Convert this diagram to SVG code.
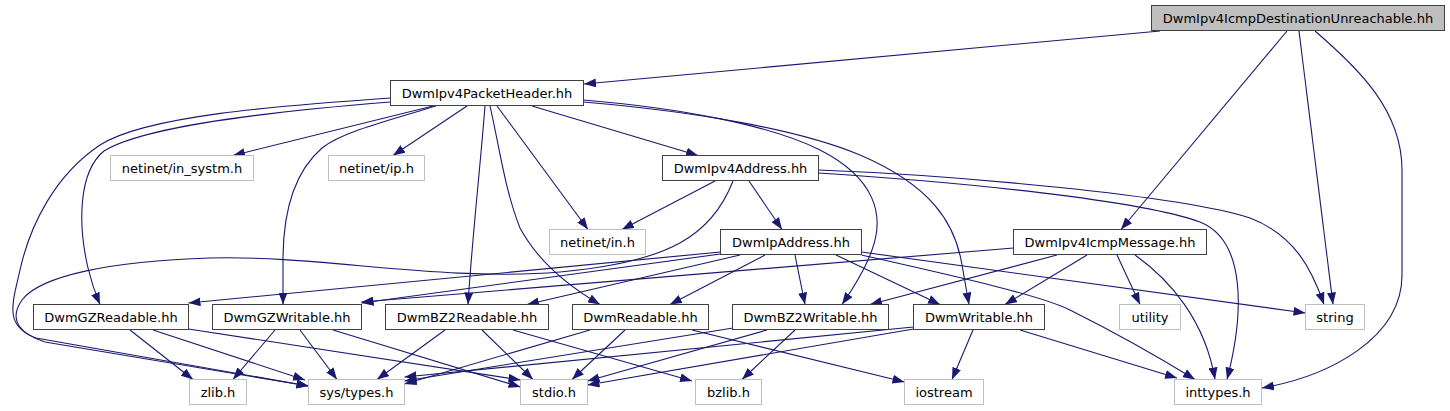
<svg xmlns="http://www.w3.org/2000/svg" width="1450" height="411" viewBox="0 0 1450 411">
<defs>
<marker id="ah" markerUnits="userSpaceOnUse" markerWidth="12" markerHeight="9" refX="12" refY="4.5" orient="auto">
<path d="M0,0 L12,4.5 L0,9 z" fill="#191970"/>
</marker>
<style>
.n rect{fill:#ffffff;stroke:#404040;stroke-width:1}
.u rect{fill:#ffffff;stroke:#bfbfbf;stroke-width:1}
.m rect{fill:#bfbfbf;stroke:#404040;stroke-width:1}
text{font-family:"DejaVu Sans","Liberation Sans",sans-serif;font-size:13px;fill:#000;text-anchor:middle}
#edges path{fill:none;stroke:#191970;stroke-width:1.1;marker-end:url(#ah)}
</style>
</defs>
<rect width="1450" height="411" fill="#ffffff"/>
<g id="edges">
<!-- A -->
<path d="M1160,31 L584,84"/>
<path d="M1287,31 L1121,229.5"/>
<path d="M1299,31 L1333,304.5"/>
<path d="M1315,31 C1358,68 1402,110 1402,170 L1402,275 C1402,338 1330,376 1262,388"/>
<!-- PacketHeader -->
<path d="M433,106 L233,155.5"/>
<path d="M467,106 L393,155.5"/>
<path d="M497,106 L588,229.5"/>
<path d="M532,106 L698,155.5"/>
<path d="M436,106 C390,120 342,132 322,148 C292,174 283,215 283,260 L283,304.5"/>
<path d="M390.5,102 C290,110 148,124 104,151 C78,172 78,225 88,268 C92,285 96,295 100,304.5"/>
<path d="M390.5,98 C275,106 145,116 100,145 C55,175 30,225 20,270 C12,305 4,326 36,338 L308.5,386"/>
<path d="M485,106 C480,170 472,240 468,304.5"/>
<path d="M490,106 C500,150 505,190 520,228 C540,265 575,290 600,304.5"/>
<path d="M583.5,100 C680,108 770,125 820,150 C875,178 885,215 872,250 C865,270 852,290 842,304.5"/>
<path d="M583.5,102 C700,112 800,130 860,155 C930,185 955,222 962,265 L969,304.5"/>
<!-- Ipv4Address -->
<path d="M715,181 L622,229.5"/>
<path d="M749,181 L782,229.5"/>
<path d="M818.5,170 C950,175 1180,195 1250,218 C1295,235 1312,270 1324,304.5"/>
<path d="M818.5,173 C960,182 1140,200 1200,222 C1245,240 1245,310 1227,379.5"/>
<path d="M733,181 C712,235 670,262 560,272 C440,282 320,255 210,258 C110,261 40,276 22,300 C8,320 20,334 45,342 L308.5,386"/>
<!-- IpAddress -->
<path d="M720.5,252 L188.5,303"/>
<path d="M720.5,254 L361.5,303"/>
<path d="M740,255 L527,304.5"/>
<path d="M765,255 L670,304.5"/>
<path d="M795,255 L805,304.5"/>
<path d="M836,255 L940,304.5"/>
<path d="M861.5,252 L1305.5,313"/>
<path d="M861.5,255 C950,275 1040,295 1070,310 C1120,335 1160,358 1195,379.5"/>
<!-- IcmpMessage -->
<path d="M1013.5,248 L361.5,302"/>
<path d="M1057,255 L870,304.5"/>
<path d="M1087,255 L1005,304.5"/>
<path d="M1117,255 L1140,304.5"/>
<path d="M1135,255 C1170,280 1205,320 1215,379.5"/>
<!-- GZReadable -->
<path d="M130,330 L193,379.5"/>
<path d="M153,330 L305,380"/>
<path d="M188.5,329 L520.5,380"/>
<!-- GZWritable -->
<path d="M275,330 L233,379.5"/>
<path d="M300,330 L337,379.5"/>
<path d="M333,330 L520.5,387"/>
<!-- BZ2Readable -->
<path d="M445,330 L377,379.5"/>
<path d="M482,330 L533,379.5"/>
<path d="M513,330 L692,381"/>
<!-- Readable -->
<path d="M590,330 L404.5,384"/>
<path d="M625,330 L572,379.5"/>
<path d="M692,330 L904.5,382"/>
<!-- BZ2Writable -->
<path d="M733,328 L404.5,381"/>
<path d="M767,330 L587.5,381"/>
<path d="M795,330 L742,379.5"/>
<!-- Writable -->
<path d="M913.5,327 L404.5,377"/>
<path d="M913.5,329 L587.5,385"/>
<path d="M973,330 L952,379.5"/>
<path d="M1020,330 L1177,378"/>
</g>
<g id="n_main" class="m"><rect x="1151.5" y="5.5" width="293" height="25"/><text x="1298" y="22.5">DwmIpv4IcmpDestinationUnreachable.hh</text></g>
<g id="n_packetheader" class="n"><rect x="390.5" y="80.5" width="193" height="25"/><text x="487" y="97.5">DwmIpv4PacketHeader.hh</text></g>
<g id="n_in_systm" class="u"><rect x="110.5" y="155.5" width="143" height="25"/><text x="182" y="172.5">netinet/in_systm.h</text></g>
<g id="n_ip" class="u"><rect x="328.5" y="155.5" width="96" height="25"/><text x="376.5" y="172.5">netinet/ip.h</text></g>
<g id="n_ipv4address" class="n"><rect x="662.5" y="155.5" width="156" height="25"/><text x="740.5" y="172.5">DwmIpv4Address.hh</text></g>
<g id="n_in" class="u"><rect x="549.5" y="229.5" width="96" height="25"/><text x="597.5" y="246.5">netinet/in.h</text></g>
<g id="n_ipaddress" class="n"><rect x="720.5" y="229.5" width="141" height="25"/><text x="791" y="246.5">DwmIpAddress.hh</text></g>
<g id="n_icmpmessage" class="n"><rect x="1013.5" y="229.5" width="193" height="25"/><text x="1110" y="246.5">DwmIpv4IcmpMessage.hh</text></g>
<g id="n_gzreadable" class="n"><rect x="33.5" y="304.5" width="155" height="25"/><text x="111" y="321.5">DwmGZReadable.hh</text></g>
<g id="n_gzwritable" class="n"><rect x="212.5" y="304.5" width="149" height="25"/><text x="287" y="321.5">DwmGZWritable.hh</text></g>
<g id="n_bz2readable" class="n"><rect x="385.5" y="304.5" width="163" height="25"/><text x="467" y="321.5">DwmBZ2Readable.hh</text></g>
<g id="n_readable" class="n"><rect x="572.5" y="304.5" width="136" height="25"/><text x="640.5" y="321.5">DwmReadable.hh</text></g>
<g id="n_bz2writable" class="n"><rect x="732.5" y="304.5" width="156" height="25"/><text x="810.5" y="321.5">DwmBZ2Writable.hh</text></g>
<g id="n_writable" class="n"><rect x="913.5" y="304.5" width="131" height="25"/><text x="979" y="321.5">DwmWritable.hh</text></g>
<g id="n_utility" class="u"><rect x="1119.5" y="304.5" width="61" height="25"/><text x="1150" y="321.5">utility</text></g>
<g id="n_string" class="u"><rect x="1305.5" y="304.5" width="59" height="25"/><text x="1335" y="321.5">string</text></g>
<g id="n_zlib" class="u"><rect x="189.5" y="379.5" width="57" height="25"/><text x="218" y="396.5">zlib.h</text></g>
<g id="n_systypes" class="u"><rect x="308.5" y="379.5" width="96" height="25"/><text x="356.5" y="396.5">sys/types.h</text></g>
<g id="n_stdio" class="u"><rect x="520.5" y="379.5" width="67" height="25"/><text x="554" y="396.5">stdio.h</text></g>
<g id="n_bzlib" class="u"><rect x="695.5" y="379.5" width="66" height="25"/><text x="728.5" y="396.5">bzlib.h</text></g>
<g id="n_iostream" class="u"><rect x="904.5" y="379.5" width="79" height="25"/><text x="944" y="396.5">iostream</text></g>
<g id="n_inttypes" class="u"><rect x="1174.5" y="379.5" width="87" height="25"/><text x="1218" y="396.5">inttypes.h</text></g>
</svg>
